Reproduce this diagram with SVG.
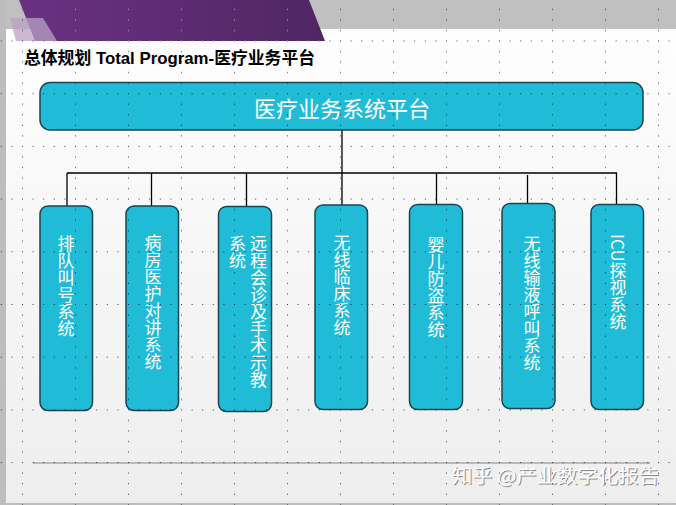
<svg xmlns="http://www.w3.org/2000/svg" width="676" height="505" viewBox="0 0 676 505">
<style>
.box{fill:#20bcd7;stroke:#1c4350;stroke-width:1.5}
.vt{font-family:"Noto Sans CJK SC","Noto Sans",sans-serif;font-size:17px;fill:#ffffff;writing-mode:vertical-rl}
.conn{stroke:#000;stroke-width:1.3;fill:none}
.title{font-family:"Liberation Sans","Noto Sans CJK SC",sans-serif;font-weight:bold;font-size:17px;fill:#000}
.main{font-family:"Noto Sans CJK SC","Noto Sans",sans-serif;font-size:22px;fill:#ffffff;text-anchor:middle;dominant-baseline:central}
.wm{font-family:"Noto Sans CJK SC","Noto Sans",sans-serif;font-size:19px}
</style>
<defs>
<linearGradient id="bg" x1="0" y1="0" x2="0" y2="1">
<stop offset="0" stop-color="#ffffff"/>
<stop offset="1" stop-color="#eeeeee"/>
</linearGradient>
<linearGradient id="purp" x1="0" y1="0" x2="1" y2="0">
<stop offset="0" stop-color="#6a3183"/>
<stop offset="1" stop-color="#502662"/>
</linearGradient>
<pattern id="grid" patternUnits="userSpaceOnUse" x="22" y="40.5" width="53" height="52.7">
<rect x="0" y="0" width="1" height="1"/>
<rect x="10.6" y="0" width="1" height="1"/>
<rect x="21.2" y="0" width="1" height="1"/>
<rect x="31.8" y="0" width="1" height="1"/>
<rect x="42.4" y="0" width="1" height="1"/>
<rect x="0" y="10.54" width="1" height="1"/>
<rect x="0" y="21.08" width="1" height="1"/>
<rect x="0" y="31.62" width="1" height="1"/>
<rect x="0" y="42.16" width="1" height="1"/>
</pattern>
<pattern id="gridw" patternUnits="userSpaceOnUse" x="22" y="40.5" width="53" height="52.7">
<g fill="#d8c8e0">
<rect x="0" y="0" width="1" height="1"/>
<rect x="10.6" y="0" width="1" height="1"/>
<rect x="21.2" y="0" width="1" height="1"/>
<rect x="31.8" y="0" width="1" height="1"/>
<rect x="42.4" y="0" width="1" height="1"/>
<rect x="0" y="10.54" width="1" height="1"/>
<rect x="0" y="21.08" width="1" height="1"/>
<rect x="0" y="31.62" width="1" height="1"/>
<rect x="0" y="42.16" width="1" height="1"/>
</g>
</pattern>
</defs>

<!-- background -->
<rect x="0" y="0" width="676" height="505" fill="url(#bg)"/>
<rect x="0" y="0" width="676" height="29" fill="#c0c0c0"/>
<polygon points="19,0 309,0 325,41 35,41" fill="url(#purp)"/>
<polygon points="10,18 43,18 57,41 16,41" fill="#b9a2c6" opacity="0.75"/>
<rect x="0" y="0" width="6" height="505" fill="#bdbdbd"/>
<rect x="0" y="503" width="676" height="2" fill="#bdbdbd"/>

<text class="title" x="24" y="64" textLength="291" lengthAdjust="spacingAndGlyphs">总体规划 Total Program-医疗业务平台</text>

<g id="connectors">
<path class="conn" d="M342,130 V205 M67,173 H617 M67,173 V206 M151.5,173 V206 M246.5,173 V206 M436.5,173 V204 M527.5,175 V203 M616.5,173 V204"/>
</g>

<g id="node-main">
<rect class="box" x="40" y="82.5" width="603" height="47.5" rx="10"/>
<text class="main" x="342" y="106.5">医疗业务系统平台</text>
</g>

<g id="node-1">
<rect class="box" x="40" y="206" width="52.5" height="204.5" rx="8"/>
<text class="vt" x="66" y="235.5">排队叫号系统</text>
</g>
<g id="node-2">
<rect class="box" x="126" y="206" width="52.5" height="204.5" rx="8"/>
<text class="vt" x="153" y="234">病房医护对讲系统</text>
</g>
<g id="node-3">
<rect class="box" x="218.5" y="206.5" width="53" height="205" rx="8"/>
<text class="vt" x="258.5" y="235.5">远程会诊及手术示教</text>
<text class="vt" x="237.5" y="235.5">系统</text>
</g>
<g id="node-4">
<rect class="box" x="315" y="205" width="52.5" height="204.5" rx="8"/>
<text class="vt" x="342" y="234">无线临床系统</text>
</g>
<g id="node-5">
<rect class="box" x="409.5" y="204.5" width="53" height="205" rx="8"/>
<text class="vt" x="436" y="236">婴儿防盗系统</text>
</g>
<g id="node-6">
<rect class="box" x="502" y="203.5" width="53" height="205" rx="8"/>
<text class="vt" x="532" y="235.5">无线输液呼叫系统</text>
</g>
<g id="node-7">
<rect class="box" x="591" y="204.5" width="52.5" height="205" rx="8"/>
<text class="vt" x="618" y="234">ICU探视系统</text>
</g>

<line x1="33" y1="463" x2="650" y2="463" stroke="#a6a6a6" stroke-width="1.5"/>

<text class="wm" x="453" y="484" fill="#8a8a8a" textLength="207" lengthAdjust="spacingAndGlyphs">知乎 @产业数字化报告</text>
<text class="wm" x="452" y="483" fill="#ffffff" textLength="207" lengthAdjust="spacingAndGlyphs">知乎 @产业数字化报告</text>

<!-- grid overlay -->
<rect x="0" y="0" width="676" height="505" fill="url(#grid)" fill-opacity="0.75"/>
<polygon points="19,0 309,0 325,41 35,41" fill="url(#gridw)"/>
</svg>
